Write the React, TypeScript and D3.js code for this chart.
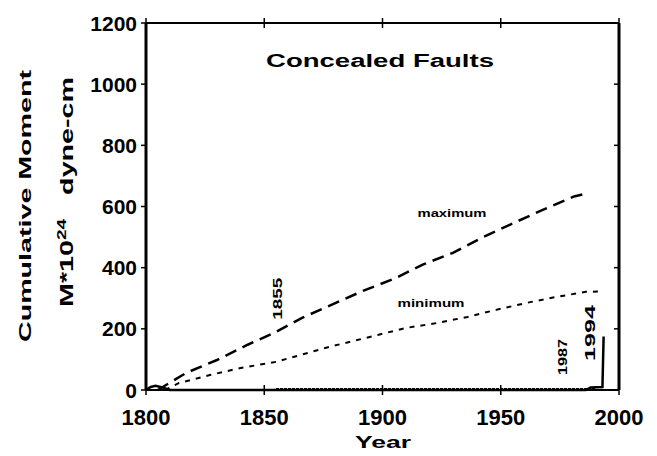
import React from "react";
import * as d3 from "d3";

const yTicks = [0, 200, 400, 600, 800, 1000, 1200];
const xTicks = [1800, 1850, 1900, 1950, 2000];

const maxYears = [1805, 1817, 1830, 1843, 1855, 1866, 1892, 1905, 1917, 1930, 1942, 1954, 1968, 1981, 1985];
const maxValues = [0, 56, 98, 148, 190, 236, 325, 364, 410, 449, 498, 541, 590, 633, 640];

const minYears = [1808, 1814, 1827, 1840, 1855, 1877, 1898, 1910, 1923, 1936, 1948, 1961, 1974, 1986, 1992];
const minValues = [0, 23, 49, 72, 92, 140, 180, 203, 219, 239, 262, 285, 305, 321, 322];

const obsYears = [1800, 1802, 1804, 1807, 1810, 1986, 1988, 1993, 1993.5];
const obsValues = [0, 10, 14, 8, 0, 0, 8, 10, 175];

const eventYears = [1855, 1987, 1994];
const eventLabels = ["1855", "1987", "1994"];

const FONT = "'Liberation Sans', Arial, sans-serif";

export default function App() {
  const x = d3.scaleLinear().domain([1800, 2000]).range([146, 619]);
  const y = d3.scaleLinear().domain([0, 1200]).range([390, 23]);
  const line = d3
    .line<[number, number]>()
    .x((d) => x(d[0]))
    .y((d) => y(d[1]));
  const maxData = maxYears.map((yr, i) => [yr, maxValues[i]] as [number, number]);
  const minData = minYears.map((yr, i) => [yr, minValues[i]] as [number, number]);
  const obsData = obsYears.map((yr, i) => [yr, obsValues[i]] as [number, number]);

  const eventY = [298, 108, 186];
  const eventSize = [12, 13, 15];
  const eventLen = [42, 36, 56];
  const eventDx = [6, -21, -10];

  return (
    <svg
      width={657}
      height={456}
      style={{ position: "absolute", left: 0, top: 0, background: "#fff" }}
    >
      {/* frame */}
      <line x1={x(1800)} x2={x(1800)} y1={y(0)} y2={y(1200)} stroke="#000" strokeWidth={3} />
      <line x1={x(2000)} x2={x(2000)} y1={y(0)} y2={y(1200)} stroke="#000" strokeWidth={3} />
      <line x1={x(1800)} x2={x(2000)} y1={y(1200)} y2={y(1200)} stroke="#000" strokeWidth={2} />
      <line x1={x(1800)} x2={x(2000)} y1={y(0)} y2={y(0)} stroke="#000" strokeWidth={2} />
      <line x1={x(1855)} x2={x(1990)} y1={y(0) - 1} y2={y(0) - 1} stroke="#000" strokeWidth={2} strokeDasharray="3 1" />

      {/* y ticks */}
      {yTicks.map((t) => (
        <g key={"yt" + t}>
          <line x1={x(1800) - 5} x2={x(1800)} y1={y(t)} y2={y(t)} stroke="#000" strokeWidth={1.5} />
          <line x1={x(2000) - 5} x2={x(2000)} y1={y(t)} y2={y(t)} stroke="#000" strokeWidth={1.5} />
          <text
            x={137}
            y={y(t)}
            dy="0.36em"
            textAnchor="end"
            fontFamily={FONT}
            fontWeight="bold"
            fontSize={21}
          >
            {t}
          </text>
        </g>
      ))}

      {/* x ticks */}
      {xTicks.map((t) => (
        <g key={"xt" + t}>
          <line x1={x(t)} x2={x(t)} y1={y(0) - 5} y2={y(0) + 5} stroke="#000" strokeWidth={1.5} />
          <line x1={x(t)} x2={x(t)} y1={y(1200) - 5} y2={y(1200) + 5} stroke="#000" strokeWidth={1.5} />
          <text
            x={x(t)}
            y={425}
            textAnchor="middle"
            fontFamily={FONT}
            fontWeight="bold"
            fontSize={22}
          >
            {t}
          </text>
        </g>
      ))}

      {/* curves */}
      <path d={line(maxData) || ""} fill="none" stroke="#000" strokeWidth={2.5} strokeDasharray="12 7" />
      <path d={line(minData) || ""} fill="none" stroke="#000" strokeWidth={2} strokeDasharray="5 6" />
      <path d={line(obsData) || ""} fill="none" stroke="#000" strokeWidth={2.5} />

      {/* series labels */}
      <text x={452} y={217} textAnchor="middle" fontFamily={FONT} fontSize={11} fontWeight="bold" textLength={69} lengthAdjust="spacingAndGlyphs">
        maximum
      </text>
      <text x={431} y={307} textAnchor="middle" fontFamily={FONT} fontSize={11} fontWeight="bold" textLength={67} lengthAdjust="spacingAndGlyphs">
        minimum
      </text>

      {/* event labels */}
      {eventYears.map((yr, i) => (
        <text
          key={"ev" + yr}
          transform={`translate(${x(yr) + eventDx[i]},${y(eventY[i])}) rotate(-90)`}
          textAnchor="middle"
          fontFamily={FONT}
          fontWeight="bold"
          fontSize={eventSize[i]}
          textLength={eventLen[i]}
          lengthAdjust="spacingAndGlyphs"
        >
          {eventLabels[i]}
        </text>
      ))}

      {/* title */}
      <text x={380} y={67} textAnchor="middle" fontFamily={FONT} fontWeight="bold" fontSize={18} textLength={228} lengthAdjust="spacingAndGlyphs">
        Concealed  Faults
      </text>

      {/* axis titles */}
      <text x={383} y={448} textAnchor="middle" fontFamily={FONT} fontWeight="bold" fontSize={17} textLength={56} lengthAdjust="spacingAndGlyphs">
        Year
      </text>
      <text
        transform="translate(31,206) rotate(-90)"
        textAnchor="middle"
        fontFamily={FONT}
        fontWeight="bold"
        fontSize={17}
        textLength={272}
        lengthAdjust="spacingAndGlyphs"
      >
        Cumulative  Moment
      </text>
      <text
        transform="translate(73,192) rotate(-90)"
        textAnchor="middle"
        fontFamily={FONT}
        fontWeight="bold"
        fontSize={18}
        textLength={230}
        lengthAdjust="spacingAndGlyphs"
      >
        M*10
        <tspan dy={-7} fontSize={12}>24</tspan>
        <tspan dy={7}>{"\u00a0\u00a0\u00a0dyne-cm"}</tspan>
      </text>
    </svg>
  );
}
